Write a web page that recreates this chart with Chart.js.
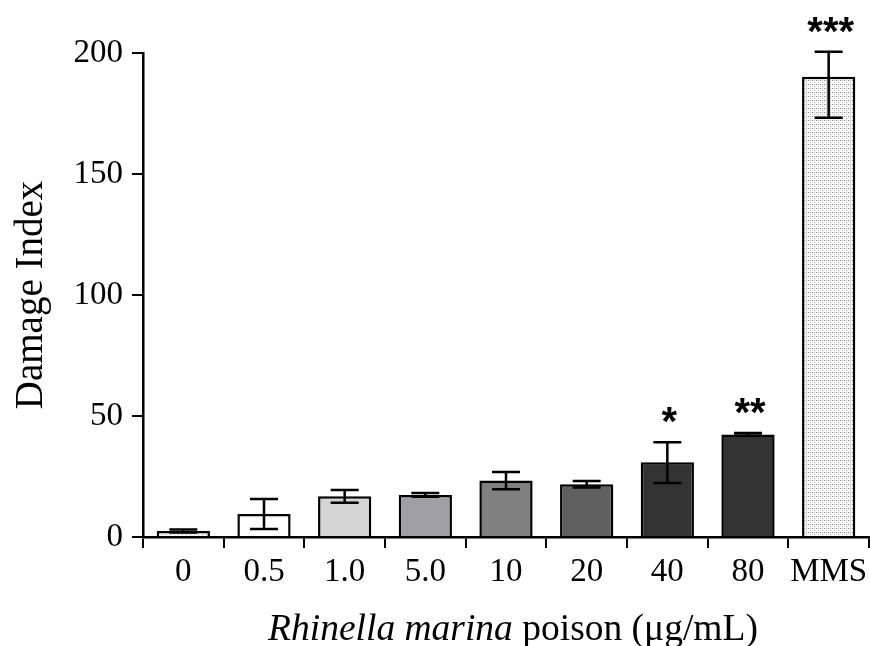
<!DOCTYPE html>
<html lang="en">
  <head>
    <meta charset="UTF-8" />
    <title>Damage Index</title>
    <style>
      body { margin: 0; background: #fff; }
      #wrap { width: 870px; height: 646px; }
    </style>
  </head>
  <body>
    <div id="wrap">
      <canvas id="myChart" width="870" height="646"></canvas>
    </div>

    <script src="https://cdn.jsdelivr.net/npm/chart.js"></script>
    <script>
      // data
      const doses = ["0", "0.5", "1.0", "5.0", "10", "20", "40", "80", "MMS"];
      const damage = [2.5, 9.5, 16.8, 17.4, 23.3, 21.8, 30.9, 42.4, 190.2];
      const errUp = [0.6, 6.2, 2.6, 0.8, 3.6, 1.3, 8.3, 0.6, 10.3];
      const errDown = [0.6, 6.2, 2.6, 0.8, 3.6, 1.3, 8.6, 0.6, 17.0];
      const stars = ["", "", "", "", "", "", "*", "**", "***"];
      const yTicks = [0, 50, 100, 150, 200];

      // little dotted fill, like the stippled bars
      function dots() {
        const c = document.createElement("canvas");
        c.width = 4;
        c.height = 4;
        const g = c.getContext("2d");
        g.fillStyle = "#f6f6f6";
        g.fillRect(0, 0, 4, 4);
        g.fillStyle = "#8a8a8a";
        g.fillRect(0, 0, 1, 1);
        g.fillStyle = "#bdbdbd";
        g.fillRect(2, 2, 1, 1);
        g.fillRect(2, 0, 1, 1);
        return g.createPattern(c, "repeat");
      }
      const dotted = dots();
      const fills = [dotted, "#ffffff", "#d4d4d4", "#a0a0a4", "#808080", "#606060", "#333333", "#333333", dotted];

      const serif = "'Liberation Serif', 'Times New Roman', serif";

      const extras = {
        id: "extras",
        afterDatasetsDraw(chart) {
          const ctx = chart.ctx;
          const y = chart.scales.y;
          const meta = chart.getDatasetMeta(0);
          ctx.save();
          ctx.strokeStyle = "#000";
          ctx.lineWidth = 2.5;
          meta.data.forEach((bar, i) => {
            const top = y.getPixelForValue(damage[i] + errUp[i]);
            const bot = y.getPixelForValue(Math.max(0, damage[i] - errDown[i]));
            ctx.beginPath();
            ctx.moveTo(bar.x, top);
            ctx.lineTo(bar.x, bot);
            ctx.moveTo(bar.x - 14, top);
            ctx.lineTo(bar.x + 14, top);
            ctx.moveTo(bar.x - 14, bot);
            ctx.lineTo(bar.x + 14, bot);
            ctx.stroke();
            if (stars[i]) {
              ctx.fillStyle = "#000";
              ctx.font = "bold 40px 'Liberation Sans', Arial, sans-serif";
              ctx.textAlign = "center";
              ctx.textBaseline = "middle";
              ctx.fillText(stars[i], bar.x + 2, top - 18);
            }
          });
          ctx.restore();
        },
        afterDraw(chart) {
          const ctx = chart.ctx;
          ctx.save();
          ctx.fillStyle = "#000";
          // y title
          ctx.translate(42, 295);
          ctx.rotate(-Math.PI / 2);
          ctx.font = "39px " + serif;
          ctx.textAlign = "center";
          ctx.textBaseline = "alphabetic";
          ctx.fillText("Damage Index", 0, 0);
          ctx.restore();

          // x title, italic species name
          ctx.save();
          ctx.fillStyle = "#000";
          ctx.textBaseline = "alphabetic";
          const part1 = "Rhinella marina";
          const part2 = " poison (\u03BCg/mL)";
          ctx.font = "italic 37.5px " + serif;
          const w1 = ctx.measureText(part1).width;
          ctx.font = "37.5px " + serif;
          const w2 = ctx.measureText(part2).width;
          let x = 513 - (w1 + w2) / 2;
          ctx.font = "italic 37.5px " + serif;
          ctx.fillText(part1, x, 640);
          ctx.font = "37.5px " + serif;
          ctx.fillText(part2, x + w1, 640);
          ctx.restore();
        },
      };

      const ctx = document.getElementById("myChart").getContext("2d");
      const chart = new Chart(ctx, {
        type: "bar",
        data: {
          labels: doses,
          datasets: [
            {
              data: damage,
              backgroundColor: fills,
              borderColor: "#000",
              borderWidth: 2.5,
              borderSkipped: "bottom",
              barPercentage: 0.66,
              categoryPercentage: 1,
            },
          ],
        },
        options: {
          responsive: false,
          animation: false,
          layout: { padding: { top: 53, right: 1, left: 0, bottom: 0 } },
          plugins: {
            legend: { display: false },
            tooltip: { enabled: false },
          },
          scales: {
            x: {
              afterFit: (s) => {
                s.height = 109;
                s.paddingLeft = 0;
                s.paddingRight = 0;
              },
              grid: {
                drawOnChartArea: false,
                drawTicks: true,
                tickLength: 11,
                color: "#000",
                lineWidth: 2,
              },
              border: { display: true, color: "#000", width: 2.5 },
              ticks: {
                color: "#000",
                padding: 5,
                maxRotation: 0,
                minRotation: 0,
                autoSkip: false,
                font: { family: serif, size: 33 },
              },
            },
            y: {
              min: 0,
              max: 200,
              afterFit: (s) => { s.width = 143; },
              afterBuildTicks: (s) => { s.ticks = yTicks.map((v) => ({ value: v })); },
              grid: {
                drawOnChartArea: false,
                drawTicks: true,
                tickLength: 11,
                color: "#000",
                lineWidth: 2,
              },
              border: { display: true, color: "#000", width: 2.5 },
              ticks: {
                color: "#000",
                padding: 9,
                font: { family: serif, size: 33 },
              },
            },
          },
        },
        plugins: [extras],
      });
    </script>
  </body>
</html>
